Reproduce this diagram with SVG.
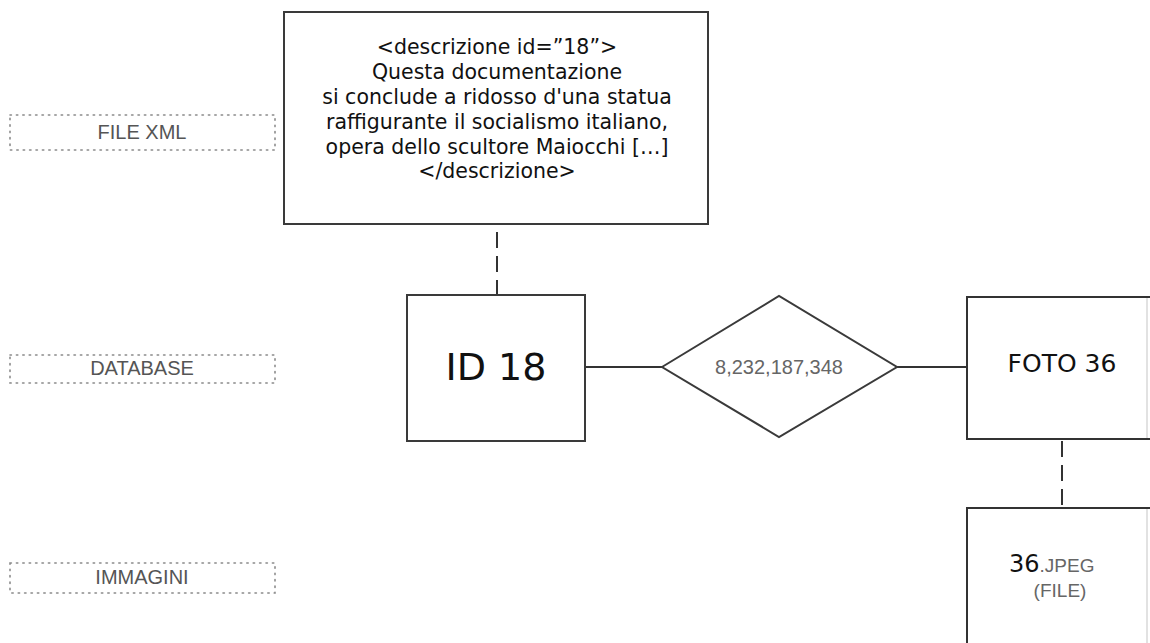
<svg xmlns="http://www.w3.org/2000/svg" width="1150" height="643" viewBox="0 0 1150 643">
  <style>
    .node { fill: #ffffff; stroke: #3a3a3a; stroke-width: 2; }
    .lane { fill: none; stroke: #8a8a8a; stroke-width: 1.6; stroke-dasharray: 1.4 5; stroke-linecap: round; }
    .lane-text { font-family: "Liberation Sans", Arial, sans-serif; font-size: 20px; fill: #555555; text-anchor: middle; }
    .verdana { font-family: "DejaVu Sans", Verdana, sans-serif; fill: #111111; text-anchor: middle; }
    .arial-grey { font-family: "Liberation Sans", Arial, sans-serif; fill: #666666; }
    .link { fill: none; stroke: #333333; stroke-width: 2; }
    .dash { fill: none; stroke: #333333; stroke-width: 2; stroke-dasharray: 16 8; }
  </style>
  <rect width="1150" height="643" fill="#ffffff"/>

  <!-- layer labels -->
  <g id="lane-xml">
    <rect class="lane" x="10" y="115" width="265" height="35"/>
    <text class="lane-text" x="142" y="139">FILE XML</text>
  </g>
  <g id="lane-db">
    <rect class="lane" x="10" y="355" width="265" height="28"/>
    <text class="lane-text" x="142" y="375">DATABASE</text>
  </g>
  <g id="lane-img">
    <rect class="lane" x="10" y="563" width="265" height="30"/>
    <text class="lane-text" x="142" y="584">IMMAGINI</text>
  </g>

  <!-- connectors -->
  <g id="connectors">
    <line class="dash" x1="497" y1="232" x2="497" y2="295"/>
    <line class="link" x1="585" y1="367" x2="662" y2="367"/>
    <line class="link" x1="897" y1="367" x2="967" y2="367"/>
    <line class="dash" x1="1062" y1="441" x2="1062" y2="508"/>
  </g>

  <!-- XML description -->
  <g id="xml-desc">
    <rect class="node" x="284" y="12" width="424" height="212"/>
    <g class="verdana" font-size="20.5">
      <text x="497" y="54">&lt;descrizione id=”18”&gt;</text>
      <text x="497" y="79">Questa documentazione</text>
      <text x="497" y="104">si conclude a ridosso d'una statua</text>
      <text x="497" y="129">raffigurante il socialismo italiano,</text>
      <text x="497" y="154">opera dello scultore Maiocchi […]</text>
      <text x="497" y="178">&lt;/descrizione&gt;</text>
    </g>
  </g>

  <!-- record ID 18 -->
  <g id="id18">
    <rect class="node" x="407" y="295" width="178" height="146"/>
    <text class="verdana" x="496" y="380" font-size="38">ID 18</text>
  </g>

  <!-- relation -->
  <g id="relation">
    <polygon class="node" points="662,367 779,296 897,367 779,437"/>
    <text class="arial-grey" x="779" y="374" font-size="20" text-anchor="middle">8,232,187,348</text>
  </g>

  <!-- record FOTO 36 -->
  <g id="foto36">
    <rect x="967" y="297" width="180" height="142" fill="#ffffff"/>
    <path class="link" d="M1150,297 H967 V439 H1150"/>
    <line x1="1147" y1="298" x2="1147" y2="438" stroke="#d8d8d8" stroke-width="1.5"/>
    <text class="verdana" x="1062" y="372" font-size="25">FOTO 36</text>
  </g>

  <!-- image file -->
  <g id="jpeg36">
    <rect x="967" y="508" width="180" height="140" fill="#ffffff"/>
    <path class="link" d="M1150,508 H967 V643"/>
    <line x1="1147" y1="509" x2="1147" y2="643" stroke="#d8d8d8" stroke-width="1.5"/>
    <text x="1009" y="572"><tspan font-family="DejaVu Sans, Verdana, sans-serif" font-size="24" fill="#111111">36</tspan><tspan class="arial-grey" font-size="19">.JPEG</tspan></text>
    <text class="arial-grey" x="1060" y="597" font-size="19" text-anchor="middle">(FILE)</text>
  </g>
</svg>
